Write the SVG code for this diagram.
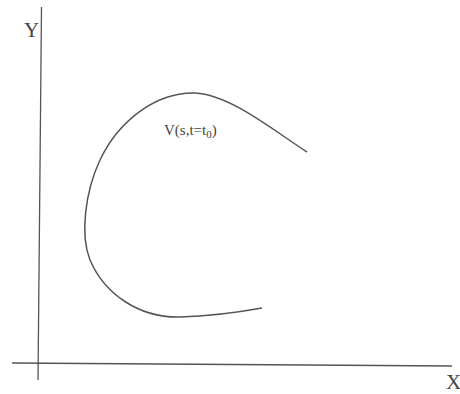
<svg xmlns="http://www.w3.org/2000/svg" width="460" height="394" viewBox="0 0 460 394">
<style>
.ax{stroke:#555;stroke-width:1.3;fill:none}
.cv{stroke:#555;stroke-width:1.5;fill:none}
.lbl{font-family:"Liberation Serif",serif;fill:#444}
</style>
<rect width="460" height="394" fill="#fff"/>
<g id="connectors">
<line class="ax" x1="41.5" y1="7" x2="38" y2="380"/>
<line class="ax" x1="12" y1="363" x2="452" y2="366"/>
</g>
<g id="axis-y"><text class="lbl" x="24" y="37" font-size="21">Y</text></g>
<g id="axis-x"><text class="lbl" x="446" y="389" font-size="21">X</text></g>
<g id="curve">
<path class="cv" d="M307,152 C270,128 230,95 195,93 C155,92 118,122 100,160 C85,192 80,235 90,260 C105,295 140,318 180,317 C215,316 240,312 262,308"/>
<text class="lbl" x="164" y="135" font-size="15">V(s,t=t<tspan font-size="11" dy="3">0</tspan><tspan dy="-3">)</tspan></text>
</g>
</svg>
